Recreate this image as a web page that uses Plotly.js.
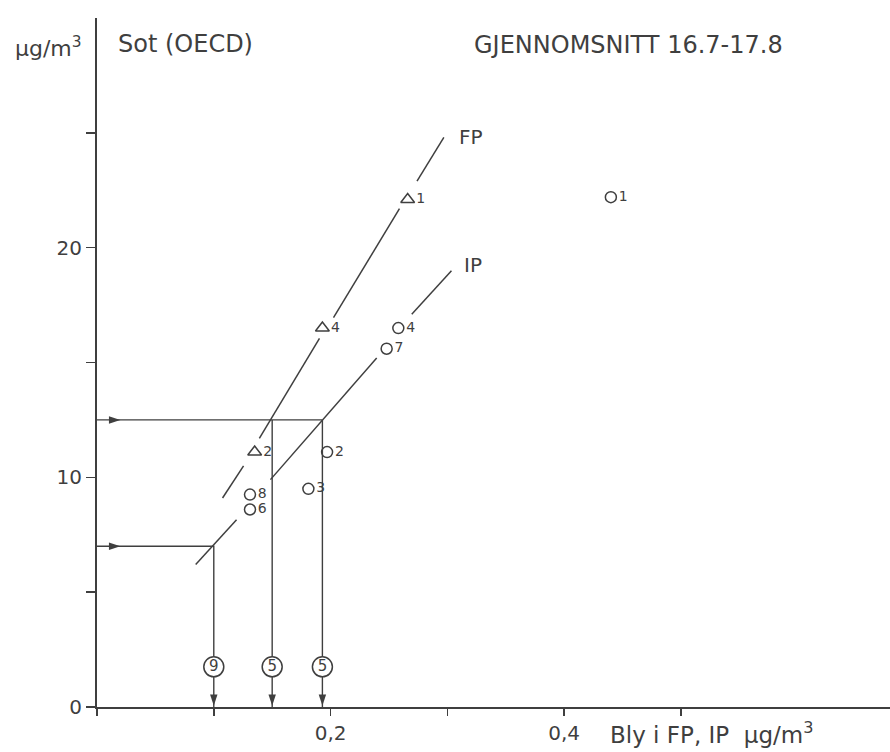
<!DOCTYPE html>
<html>
<head>
<meta charset="utf-8">
<script src="https://cdn.plot.ly/plotly-3.0.1.min.js"></script>
<style>
  html, body { margin: 0; padding: 0; background: #ffffff; }
  #chart { width: 890px; height: 752px; }
</style>
</head>
<body>
<div id="chart"></div>
<script>
// Lead (x, µg/m3) against soot (y, µg/m3), mean 16.7-17.8, per station
const fpLead    = [0.266, 0.193, 0.135];
const fpSoot    = [22.1, 16.5, 11.1];
const fpStation = ['1', '4', '2'];

const ipLead    = [0.44, 0.258, 0.248, 0.197, 0.181, 0.131, 0.131];
const ipSoot    = [22.2, 16.5, 15.6, 11.1, 9.5, 9.25, 8.6];
const ipStation = ['1', '4', '7', '2', '3', '8', '6'];

// Fitted FP and IP lines, broken where they pass the station labels
const fpLineX = [0.297, 0.274, null, 0.259, 0.2025, null, 0.1905, 0.139, null, 0.1255, 0.1075];
const fpLineY = [24.8, 22.9, null, 21.7, 16.95, null, 16.05, 11.7, null, 10.5, 9.1];
const ipLineX = [0.3035, 0.2695, null, 0.2395, 0.1485, null, 0.1195, 0.0845];
const ipLineY = [19.0, 17.1, null, 15.2, 9.9, null, 8.15, 6.2];

// Reading-off guides: soot level -> lead level on each line
const guideX = [0, 0.193, null, 0.15, 0.15, null, 0.193, 0.193, null, 0, 0.1, 0.1];
const guideY = [12.5, 12.5, null, 12.5, 0, null, 12.5, 0, null, 7, 7, 0];

// Arrow tips on the guides
const arrowRightX = [0.02, 0.02];
const arrowRightY = [12.5, 7];
const arrowDownX  = [0.1, 0.15, 0.193];
const arrowDownY  = [0.05, 0.05, 0.05];

// Circled counts on the vertical guides
const countX    = [0.1, 0.15, 0.193];
const countY    = [1.75, 1.75, 1.75];
const countText = ['9', '5', '5'];

// Axis ticks and labels
const xTickVals  = [0.2, 0.4];
const xTickText  = ['0,2', '0,4'];
const xMinorVals = [0, 0.1, 0.3, 0.5];
const yTickVals  = [0, 10, 20];
const yTickText  = ['0', '10', '20'];
const yMinorVals = [5, 15, 25];

const ink = '#3f3f3f';
const font = 'DejaVu Sans, sans-serif';

const traces = [
  { x: guideX, y: guideY, mode: 'lines', line: { color: ink, width: 1.4 }, hoverinfo: 'skip' },
  { x: fpLineX, y: fpLineY, mode: 'lines', line: { color: ink, width: 1.5 }, hoverinfo: 'skip' },
  { x: ipLineX, y: ipLineY, mode: 'lines', line: { color: ink, width: 1.5 }, hoverinfo: 'skip' },
  { x: arrowRightX, y: arrowRightY, mode: 'markers',
    marker: { symbol: 'arrow', angle: 90, size: 12, color: ink, line: { width: 0 } }, hoverinfo: 'skip' },
  { x: arrowDownX, y: arrowDownY, mode: 'markers',
    marker: { symbol: 'arrow', angle: 180, size: 12, color: ink, line: { width: 0 } }, hoverinfo: 'skip' },
  { x: countX, y: countY, mode: 'markers+text', text: countText, textposition: 'middle center',
    textfont: { family: font, size: 15, color: ink },
    marker: { symbol: 'circle', size: 20, color: '#ffffff', line: { color: ink, width: 1.5 } }, hoverinfo: 'skip' },
  { x: fpLead, y: fpSoot, mode: 'markers+text', text: fpStation, textposition: 'middle right',
    textfont: { family: font, size: 14, color: ink },
    marker: { symbol: 'triangle-up-open', size: 12, color: ink, line: { width: 1.5 } }, cliponaxis: false },
  { x: ipLead, y: ipSoot, mode: 'markers+text', text: ipStation, textposition: 'middle right',
    textfont: { family: font, size: 14, color: ink },
    marker: { symbol: 'circle-open', size: 11, color: ink, line: { width: 1.5 } }, cliponaxis: false }
];

const layout = {
  width: 890, height: 752,
  margin: { l: 97, r: 0, t: 18, b: 45 },
  paper_bgcolor: '#ffffff', plot_bgcolor: '#ffffff',
  showlegend: false,
  font: { family: font, color: ink },
  xaxis: {
    range: [0, 0.679], showgrid: false, zeroline: false,
    showline: true, linecolor: ink, linewidth: 2,
    ticks: 'outside', ticklen: 7, tickwidth: 1.5, tickcolor: ink,
    tickmode: 'array', tickvals: xTickVals, ticktext: xTickText,
    tickfont: { family: font, size: 20, color: ink },
    minor: { tickmode: 'array', tickvals: xMinorVals, ticks: 'outside', ticklen: 7, tickwidth: 1.5, tickcolor: ink, showgrid: false }
  },
  yaxis: {
    range: [0, 30], showgrid: false, zeroline: false,
    showline: true, linecolor: ink, linewidth: 2,
    ticks: 'outside', ticklen: 9, tickwidth: 1.5, tickcolor: ink,
    tickmode: 'array', tickvals: yTickVals, ticktext: yTickText,
    tickfont: { family: font, size: 20, color: ink },
    minor: { tickmode: 'array', tickvals: yMinorVals, ticks: 'outside', ticklen: 9, tickwidth: 1.5, tickcolor: ink, showgrid: false }
  },
  annotations: [
    { text: 'µg/m<sup>3</sup>', xref: 'paper', yref: 'paper', x: -0.106, y: 0.958,
      xanchor: 'left', yanchor: 'middle', showarrow: false, font: { family: font, size: 22, color: ink } },
    { text: 'Sot (OECD)', xref: 'paper', yref: 'paper', x: 0.024, y: 0.962,
      xanchor: 'left', yanchor: 'middle', showarrow: false, font: { family: font, size: 24, color: ink } },
    { text: 'GJENNOMSNITT 16.7-17.8', xref: 'paper', yref: 'paper', x: 0.4729, y: 0.961,
      xanchor: 'left', yanchor: 'middle', showarrow: false, font: { family: font, size: 24, color: ink } },
    { text: 'Bly i FP, IP\u00a0\u00a0µg/m<sup>3</sup>', xref: 'paper', yref: 'paper', x: 0.6444, y: -0.0377,
      xanchor: 'left', yanchor: 'middle', showarrow: false, font: { family: font, size: 23, color: ink } },
    { text: 'FP', xref: 'x', yref: 'y', x: 0.308, y: 24.8,
      xanchor: 'left', yanchor: 'middle', showarrow: false, font: { family: font, size: 20, color: ink } },
    { text: 'IP', xref: 'x', yref: 'y', x: 0.3126, y: 19.26,
      xanchor: 'left', yanchor: 'middle', showarrow: false, font: { family: font, size: 20, color: ink } }
  ]
};

Plotly.newPlot('chart', traces, layout, { staticPlot: true, displayModeBar: false });
</script>
</body>
</html>
